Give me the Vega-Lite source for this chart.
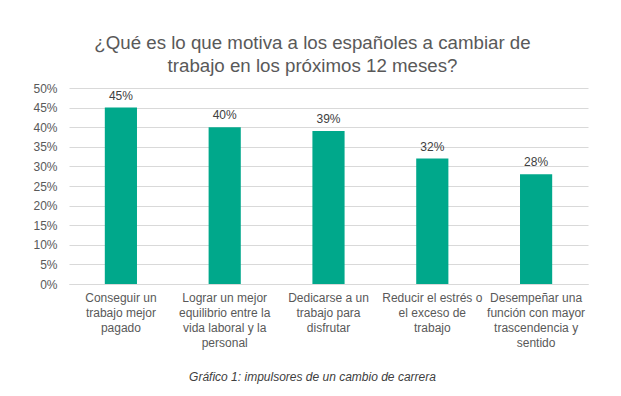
{
  "$schema": "https://vega.github.io/schema/vega-lite/v6.json",
  "width": 519,
  "height": 196,
  "autosize": {"type": "none"},
  "padding": {"left": 69, "top": 88, "right": 33, "bottom": 112},
  "background": "white",
  "title": {
    "text": ["¿Qué es lo que motiva a los españoles a cambiar de", "trabajo en los próximos 12 meses?"],
    "font": "Liberation Sans",
    "fontSize": 18.7,
    "fontWeight": "normal",
    "color": "#595959",
    "anchor": "middle",
    "frame": "group",
    "dx": -16,
    "offset": 6,
    "lineHeight": 23
  },
  "data": {
    "values": [
      {"motivo": "Conseguir un\ntrabajo mejor\npagado", "pct": 0.45},
      {"motivo": "Lograr un mejor\nequilibrio entre la\nvida laboral y la\npersonal", "pct": 0.40},
      {"motivo": "Dedicarse a un\ntrabajo para\ndisfrutar", "pct": 0.39},
      {"motivo": "Reducir el estrés o\nel exceso de\ntrabajo", "pct": 0.32},
      {"motivo": "Desempeñar una\nfunción con mayor\ntrascendencia y\nsentido", "pct": 0.28}
    ]
  },
  "encoding": {
    "x": {
      "field": "motivo",
      "type": "nominal",
      "sort": null,
      "scale": {"paddingInner": 0.69, "paddingOuter": 0.345},
      "axis": {
        "title": "Gráfico 1: impulsores de un cambio de carrera",
        "titleFont": "Liberation Sans",
        "titleFontSize": 12,
        "titleFontStyle": "italic",
        "titleFontWeight": "normal",
        "titleColor": "#404040",
        "titleX": 243,
        "titleY": 96,
        "titleBaseline": "alphabetic",
        "titleAnchor": "middle",
        "labelExpr": "split(datum.value, '\\n')",
        "labelAngle": 0,
        "labelFont": "Liberation Sans",
        "labelFontSize": 12,
        "labelColor": "#595959",
        "labelLineHeight": 15,
        "labelLimit": 0,
        "labelPadding": 8,
        "ticks": false,
        "domain": true,
        "domainColor": "#d9d9d9"
      }
    },
    "y": {
      "field": "pct",
      "type": "quantitative",
      "scale": {"domain": [0, 0.5], "nice": false},
      "axis": {
        "title": null,
        "values": [0, 0.05, 0.1, 0.15, 0.2, 0.25, 0.3, 0.35, 0.4, 0.45, 0.5],
        "format": ".0%",
        "labelFont": "Liberation Sans",
        "labelFontSize": 12,
        "labelColor": "#595959",
        "labelPadding": 12,
        "ticks": false,
        "domain": false,
        "gridColor": "#d9d9d9",
        "gridWidth": 1
      }
    }
  },
  "layer": [
    {"mark": {"type": "bar", "color": "#00a88b"}},
    {
      "mark": {
        "type": "text",
        "baseline": "alphabetic",
        "dy": -8,
        "font": "Liberation Sans",
        "fontSize": 12,
        "color": "#404040"
      },
      "encoding": {"text": {"field": "pct", "type": "quantitative", "format": ".0%"}}
    }
  ],
  "config": {"view": {"stroke": null}}
}
